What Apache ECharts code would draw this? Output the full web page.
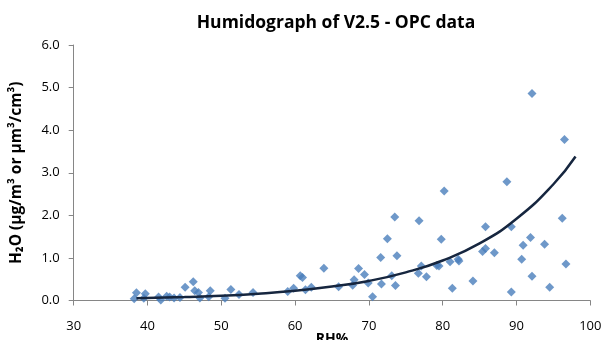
<!DOCTYPE html>
<html>
<head>
<meta charset="utf-8">
<script src="https://cdn.jsdelivr.net/npm/echarts@6/dist/echarts.min.js"></script>
<style>html,body{margin:0;padding:0;background:#fff}#c{width:605px;height:340px}</style>
</head>
<body>
<div id="c"></div>
<script>
var titleText = 'Humidograph of V2.5 - OPC data';
var xName = 'RH%';
var yName = 'H\u2082O (\u03bcg/m\u00b3 or \u03bcm\u00b3/cm\u00b3)';
var xTicks = [30, 40, 50, 60, 70, 80, 90, 100];
var yTicks = [0.0, 1.0, 2.0, 3.0, 4.0, 5.0, 6.0];

var rh = [38.2, 38.5, 39.5, 39.7, 41.5, 41.8, 42.6, 43.0, 43.6, 44.4,
  45.1, 46.2, 46.4, 46.9, 47.1, 48.3, 48.5, 50.5, 51.3, 52.4,
  54.3, 59.0, 59.8, 60.7, 61.0, 61.4, 62.2, 63.9, 65.9, 67.8,
  68.0, 68.6, 69.4, 69.9, 70.5, 71.6, 71.7, 72.5, 73.1, 73.5,
  73.6, 73.8, 76.7, 76.8, 77.1, 77.8, 79.2, 79.5, 79.8, 80.2,
  81.0, 81.3, 82.1, 82.2, 84.1, 85.4, 85.8, 85.8, 87.0, 88.7,
  89.3, 89.3, 90.7, 90.9, 91.9, 92.1, 92.1, 93.8, 94.5, 96.2,
  96.5, 96.7];
var h2o = [0.04, 0.18, 0.05, 0.16, 0.08, 0.01, 0.10, 0.08, 0.06, 0.07,
  0.31, 0.44, 0.23, 0.19, 0.06, 0.09, 0.23, 0.05, 0.26, 0.14,
  0.19, 0.21, 0.29, 0.58, 0.54, 0.25, 0.31, 0.76, 0.32, 0.36,
  0.49, 0.75, 0.61, 0.41, 0.09, 1.01, 0.39, 1.45, 0.58, 1.96,
  0.35, 1.05, 0.64, 1.87, 0.81, 0.56, 0.82, 0.81, 1.44, 2.57,
  0.91, 0.29, 0.97, 0.93, 0.46, 1.15, 1.22, 1.73, 1.12, 2.79,
  1.73, 0.20, 0.97, 1.30, 1.48, 4.86, 0.57, 1.32, 0.31, 1.93,
  3.78, 0.86];

// trend line
var trendX = [38.5, 45, 50, 55, 60, 65, 70, 75, 80, 85, 90, 95, 98];
var trendY = [0.05, 0.08, 0.11, 0.16, 0.23, 0.33, 0.46, 0.66, 0.94, 1.34, 1.92, 2.73, 3.38];

var pts = rh.map(function (x, i) { return [x, h2o[i]]; });
var trend = trendX.map(function (x, i) { return [x, trendY[i]]; });

var axisGray = '#868686';
var font = 'Open Sans';
var chart = echarts.init(document.getElementById('c'), null, {renderer: 'canvas'});
chart.setOption({
  animation: false,
  backgroundColor: '#ffffff',
  title: {
    text: titleText, left: 331, top: 9, textAlign: 'center',
    textStyle: {fontFamily: font, fontWeight: 'bold', fontSize: 17.5, color: '#000'}
  },
  grid: {left: 73.7, right: 14.7, top: 45, bottom: 39.5, containLabel: false, outerBoundsMode: 'none'},
  xAxis: {
    type: 'value', min: xTicks[0], max: xTicks[xTicks.length - 1], interval: 10,
    name: xName, nameLocation: 'middle', nameGap: 32, nameMoveOverlap: false,
    nameTextStyle: {fontFamily: font, fontWeight: 'bold', fontSize: 14, color: '#000'},
    axisLine: {lineStyle: {color: axisGray, width: 1}},
    axisTick: {show: true, length: 5, lineStyle: {color: axisGray}},
    axisLabel: {fontFamily: font, fontSize: 13, color: '#000', margin: 19},
    splitLine: {show: false}
  },
  yAxis: {
    type: 'value', min: yTicks[0], max: yTicks[yTicks.length - 1], interval: 1,
    name: yName, nameLocation: 'middle', nameGap: 49, nameRotate: 90, nameMoveOverlap: false,
    nameTextStyle: {fontFamily: font, fontWeight: 'bold', fontSize: 15.5, color: '#000'},
    axisLine: {show: true, lineStyle: {color: axisGray, width: 1}},
    axisTick: {show: true, length: 5, lineStyle: {color: axisGray}},
    axisLabel: {fontFamily: font, fontSize: 13, color: '#000', margin: 14,
      formatter: function (v) { return v.toFixed(1); }},
    splitLine: {show: false}
  },
  series: [
    {
      type: 'scatter', data: pts, symbol: 'diamond', symbolSize: 9,
      itemStyle: {color: '#4a7ebb'}
    },
    {
      type: 'line', data: trend, smooth: true, showSymbol: false, symbol: 'none',
      lineStyle: {color: '#16263f', width: 2.5}
    }
  ]
});
</script>
</body>
</html>
